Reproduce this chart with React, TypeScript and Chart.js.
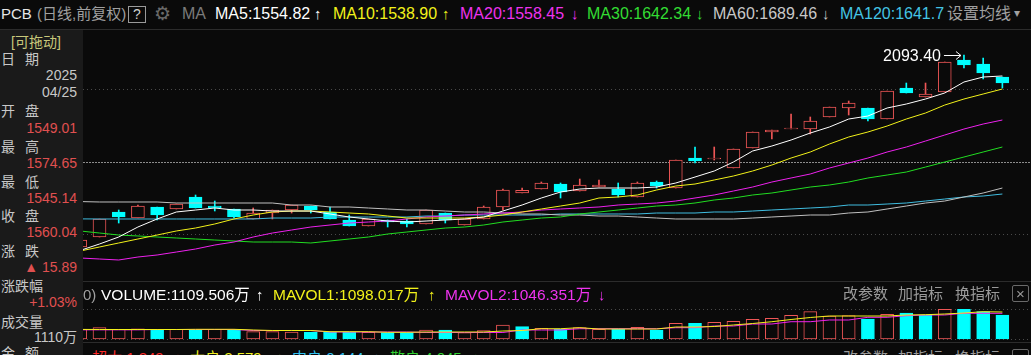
import React, { useEffect, useRef } from "react";
import { Chart, registerables } from "chart.js";

Chart.register(...registerables);

// ---------------- data ----------------
const openPrices = [
  1564.1, 1591.7, 1660.7, 1644.1, 1674.5, 1669.0, 1702.1, 1677.3, 1669.0, 1641.4,
  1657.9, 1666.2, 1677.3, 1660.7, 1638.6, 1622.1, 1638.6, 1635.9, 1627.6, 1657.9,
  1624.8, 1641.4, 1674.5, 1713.1, 1724.2, 1737.9, 1718.6, 1729.7, 1724.2, 1702.1,
  1743.5, 1726.9, 1809.7, 1806.9, 1782.1, 1837.3, 1881.4, 1889.6, 1889.6, 1922.8,
  1947.6, 1947.6, 1917.3, 2002.8, 1977.9, 1991.7, 2080.0, 2069.0, 2033.1,
];
const highPrices = [
  1586.0, 1641.4, 1666.2, 1680.0, 1674.5, 1682.8, 1707.6, 1691.0, 1669.0, 1671.8,
  1666.2, 1680.0, 1677.3, 1674.5, 1652.4, 1641.4, 1638.6, 1641.4, 1666.2, 1657.9,
  1641.4, 1677.3, 1724.2, 1726.9, 1743.5, 1740.7, 1751.7, 1749.0, 1740.7, 1743.5,
  1746.2, 1804.1, 1840.0, 1840.0, 1834.5, 1881.4, 1886.9, 1931.0, 1922.8, 1950.3,
  1966.9, 1947.6, 1994.5, 2016.5, 2016.5, 2074.5, 2093.4, 2085.5, 2033.1,
];
const lowPrices = [
  1561.0, 1591.7, 1630.3, 1644.1, 1638.6, 1669.0, 1671.8, 1663.5, 1644.1, 1641.4,
  1641.4, 1657.9, 1657.9, 1641.4, 1622.1, 1622.1, 1619.3, 1619.3, 1627.6, 1630.3,
  1624.8, 1641.4, 1666.2, 1713.1, 1724.2, 1699.3, 1718.6, 1729.7, 1702.1, 1702.1,
  1726.9, 1726.9, 1795.9, 1804.1, 1782.1, 1837.3, 1862.0, 1889.6, 1875.9, 1922.8,
  1928.3, 1911.8, 1917.3, 1989.0, 1977.9, 1991.7, 2057.9, 2027.6, 2002.8,
];
const closePrices = [
  1583.5, 1641.4, 1646.9, 1677.3, 1652.4, 1682.8, 1671.8, 1672.5, 1646.9, 1657.9,
  1666.2, 1680.0, 1666.2, 1641.4, 1622.1, 1641.4, 1633.1, 1627.6, 1666.2, 1638.6,
  1641.4, 1674.5, 1721.4, 1720.5, 1740.7, 1715.9, 1735.2, 1735.2, 1707.6, 1740.7,
  1732.4, 1804.1, 1801.4, 1807.5, 1834.5, 1881.4, 1886.9, 1890.2, 1911.8, 1950.3,
  1961.4, 1917.3, 1994.5, 1989.0, 1986.2, 2074.5, 2066.2, 2044.1, 2016.5,
];
const ma5 = [
  1554.8, 1572.4, 1591.7, 1619.3, 1641.4, 1660.7, 1666.2, 1671.7, 1666.2, 1666.2,
  1663.4, 1663.4, 1663.4, 1655.2, 1646.9, 1641.4, 1635.8, 1633.1, 1635.8, 1638.6,
  1641.4, 1646.9, 1663.4, 1680.0, 1699.3, 1715.8, 1724.1, 1726.9, 1726.9, 1726.9,
  1729.6, 1740.7, 1757.2, 1773.8, 1798.6, 1829.0, 1842.7, 1859.3, 1878.6, 1895.2,
  1917.2, 1925.5, 1947.6, 1958.6, 1972.4, 1989.0, 2019.3, 2033.1, 2035.9,
];
const ma10 = [
  1553.1, 1564.1, 1575.2, 1586.2, 1597.2, 1608.3, 1616.5, 1627.6, 1641.4, 1652.4,
  1660.7, 1663.4, 1663.4, 1660.7, 1657.9, 1655.2, 1649.6, 1644.1, 1644.1, 1644.1,
  1644.1, 1646.9, 1652.4, 1660.7, 1669.0, 1677.2, 1685.5, 1699.3, 1702.1, 1707.6,
  1721.4, 1732.4, 1737.9, 1749.0, 1760.0, 1773.8, 1790.3, 1809.6, 1826.2, 1848.3,
  1867.6, 1881.4, 1897.9, 1917.2, 1933.8, 1955.8, 1972.4, 1986.2, 2000.0,
];
const ma20 = [
  1533.8, 1531.0, 1528.3, 1536.5, 1542.1, 1550.3, 1558.6, 1569.6, 1577.9, 1591.7,
  1602.7, 1611.0, 1619.3, 1624.8, 1630.3, 1633.1, 1635.8, 1641.4, 1646.9, 1649.6,
  1652.4, 1655.2, 1657.9, 1660.7, 1666.2, 1669.0, 1671.7, 1674.5, 1680.0, 1682.7,
  1685.5, 1691.0, 1699.3, 1707.6, 1718.6, 1729.6, 1743.4, 1754.5, 1765.5, 1782.1,
  1795.8, 1809.6, 1826.2, 1840.0, 1856.5, 1873.1, 1889.6, 1903.4, 1914.5,
];
const ma30 = [
  1608.3, 1602.7, 1597.2, 1594.5, 1591.7, 1589.0, 1586.2, 1583.4, 1580.7, 1577.9,
  1577.9, 1577.9, 1575.2, 1580.7, 1586.2, 1591.7, 1600.0, 1605.5, 1611.0, 1616.5,
  1619.3, 1624.8, 1633.1, 1638.6, 1644.1, 1646.9, 1655.2, 1660.7, 1666.2, 1671.7,
  1677.2, 1680.0, 1685.5, 1693.8, 1699.3, 1707.6, 1713.1, 1721.4, 1729.6, 1735.2,
  1743.4, 1754.5, 1762.7, 1771.0, 1784.8, 1798.6, 1812.4, 1826.2, 1840.0,
];
const ma60 = [
  1689.5, 1688.3, 1688.3, 1688.3, 1688.3, 1685.5, 1685.5, 1685.5, 1685.5, 1685.5,
  1685.5, 1680.0, 1680.0, 1674.5, 1674.5, 1671.7, 1669.0, 1666.2, 1666.2, 1663.4,
  1660.7, 1660.7, 1657.9, 1655.2, 1655.2, 1652.4, 1652.4, 1649.6, 1649.6, 1646.9,
  1644.1, 1641.4, 1641.4, 1641.4, 1641.4, 1644.1, 1646.9, 1649.6, 1652.4, 1652.4,
  1657.9, 1660.7, 1669.0, 1677.2, 1685.5, 1691.0, 1702.1, 1713.1, 1726.9,
];
const ma120 = [
  1641.7, 1641.4, 1641.4, 1641.4, 1641.4, 1641.4, 1641.4, 1641.4, 1641.4, 1641.4,
  1644.1, 1644.1, 1644.1, 1646.9, 1646.9, 1646.9, 1646.9, 1646.9, 1649.6, 1649.6,
  1652.4, 1652.4, 1652.4, 1652.4, 1652.4, 1655.2, 1655.2, 1655.2, 1655.2, 1655.2,
  1657.9, 1657.9, 1657.9, 1660.7, 1660.7, 1663.4, 1666.2, 1669.0, 1671.7, 1674.5,
  1680.0, 1680.0, 1682.7, 1685.5, 1691.0, 1696.5, 1702.1, 1704.8, 1710.3,
];
// volume in 万 shares
const volumes = [
  1110, 1293, 1110, 1178, 1030, 1110, 1030, 1110, 1030, 835,
  835, 800, 766, 766, 766, 766, 721, 721, 1030, 1030,
  721, 950, 1602, 1407, 1224, 1144, 1293, 1110, 1144, 1338,
  1030, 1796, 1796, 1910, 2025, 2254, 2368, 2711, 3123, 2631,
  2666, 2288, 2826, 2974, 2746, 3398, 3398, 3123, 2746,
];
const mavol1 = [
  1098, 1087, 1087, 1087, 1087, 1087, 1110, 1110, 1110, 1030,
  972, 972, 972, 835, 835, 835, 766, 766, 800, 800,
  800, 800, 915, 972, 1178, 1178, 1293, 1144, 1144, 1144,
  1144, 1373, 1373, 1430, 1602, 1773, 1979, 2231, 2460, 2631,
  2631, 2631, 2631, 2746, 2780, 2860, 2974, 3123, 3089,
];
const mavol2 = [
  1046, 1046, 1046, 1046, 1087, 1087, 1087, 1087, 1087, 972,
  972, 972, 972, 800, 800, 800, 800, 800, 744, 744,
  744, 744, 744, 1030, 1030, 1030, 1178, 1178, 1178, 1178,
  1178, 1293, 1293, 1487, 1487, 1716, 1716, 1979, 1979, 2174,
  2174, 2482, 2482, 2666, 2746, 2746, 2940, 2940, 2940,
];
const priceGridLines = [1600, 1800, 2000];
const volumeGridLines = [0, 3432];

// ---------------- styles / layout ----------------
const BG = "#0a0a0a";
const RED = "#ee5656";
const CYAN = "#00ffff";
const FONT = "'Liberation Sans', 'Noto Sans CJK SC', sans-serif";
const X_MIN = 0.141;
const X_MAX = 49.49;
const P_MIN = 1473.1;
const P_MAX = 2162.8;
const V_MIN = -343;
const V_MAX = 4462;

const idx = closePrices.map((_, i) => i);
const isUp = (i: number) => closePrices[i] >= openPrices[i];
const volUp = (i: number) => i === 0 || closePrices[i] >= closePrices[i - 1];

function lineDs(label: string, values: number[], color: string) {
  return {
    type: "line" as const,
    label,
    data: idx.map((i) => ({ x: i, y: values[i] })),
    borderColor: color,
    borderWidth: 1,
    pointRadius: 0,
    tension: 0,
    fill: false,
    order: 0,
  };
}

function gridPlugin(id: string, values: number[], styleFor: (v: number) => { color: string; dash: number[] }) {
  return {
    id,
    beforeDatasetsDraw(chart: any) {
      const { ctx, chartArea, scales } = chart;
      ctx.save();
      values.forEach((v) => {
        const y = Math.round(scales.y.getPixelForValue(v)) + 0.5;
        const st = styleFor(v);
        ctx.strokeStyle = st.color;
        ctx.setLineDash(st.dash);
        ctx.lineWidth = 1;
        ctx.beginPath();
        ctx.moveTo(chartArea.left, y);
        ctx.lineTo(chartArea.right, y);
        ctx.stroke();
      });
      ctx.restore();
    },
  };
}

const maxLabelPlugin = {
  id: "maxLabel",
  afterDatasetsDraw(chart: any) {
    const { ctx, scales } = chart;
    let m = 0;
    highPrices.forEach((h, i) => {
      if (h > highPrices[m]) m = i;
    });
    const px = scales.x.getPixelForValue(m);
    const py = Math.round(scales.y.getPixelForValue(highPrices[m])) + 0.5;
    ctx.save();
    ctx.font = `16px ${FONT}`;
    ctx.fillStyle = "#ffffff";
    ctx.textAlign = "right";
    ctx.textBaseline = "middle";
    ctx.fillText(highPrices[m].toFixed(2), px - 23, py + 1);
    ctx.strokeStyle = "#ffffff";
    ctx.lineWidth = 1;
    ctx.beginPath();
    ctx.moveTo(px - 20, py);
    ctx.lineTo(px - 3, py);
    ctx.moveTo(px - 8, py - 4);
    ctx.lineTo(px - 3, py);
    ctx.lineTo(px - 8, py + 4);
    ctx.stroke();
    ctx.restore();
  },
};

function mainConfig(): any {
  return {
    type: "bar",
    data: {
      datasets: [
        lineDs("MA5", ma5, "#ffffff"),
        lineDs("MA10", ma10, "#f2f21a"),
        lineDs("MA20", ma20, "#ee22ee"),
        lineDs("MA30", ma30, "#22dd22"),
        lineDs("MA60", ma60, "#c0c0c0"),
        lineDs("MA120", ma120, "#40bde0"),
        {
          type: "bar",
          label: "body",
          data: idx.map((i) => ({
            x: i,
            y: [Math.min(openPrices[i], closePrices[i]), Math.max(openPrices[i], closePrices[i])],
          })),
          backgroundColor: idx.map((i) => (isUp(i) ? BG : CYAN)),
          borderColor: idx.map((i) => (isUp(i) ? RED : CYAN)),
          borderWidth: 1,
          borderSkipped: false,
          barThickness: 13,
          minBarLength: 1,
          grouped: false,
          order: 1,
        },
        {
          type: "bar",
          label: "wick",
          data: idx.map((i) => ({ x: i, y: [lowPrices[i], highPrices[i]] })),
          backgroundColor: idx.map((i) => (isUp(i) ? RED : CYAN)),
          borderWidth: 0,
          barThickness: 1,
          grouped: false,
          order: 2,
        },
      ],
    },
    options: {
      animation: false,
      responsive: false,
      maintainAspectRatio: false,
      events: [],
      layout: { padding: 0 },
      plugins: { legend: { display: false }, tooltip: { enabled: false } },
      scales: {
        x: { type: "linear", min: X_MIN, max: X_MAX, display: false, offset: false },
        y: { type: "linear", min: P_MIN, max: P_MAX, display: false },
      },
    },
    plugins: [
      gridPlugin("priceGrid", priceGridLines, (v) =>
        v === 1800 ? { color: "#8c8c8c", dash: [2, 1] } : { color: "#4a4a4a", dash: [1, 3] }
      ),
      maxLabelPlugin,
    ],
  };
}

function volConfig(): any {
  return {
    type: "bar",
    data: {
      datasets: [
        lineDs("MAVOL1", mavol1, "#f2f21a"),
        lineDs("MAVOL2", mavol2, "#ee22ee"),
        {
          type: "bar",
          label: "VOLUME",
          data: idx.map((i) => ({ x: i, y: volumes[i] })),
          backgroundColor: idx.map((i) => (volUp(i) ? BG : CYAN)),
          borderColor: idx.map((i) => (volUp(i) ? RED : CYAN)),
          borderWidth: 1,
          borderSkipped: false,
          barThickness: 13,
          grouped: false,
          order: 1,
        },
      ],
    },
    options: {
      animation: false,
      responsive: false,
      maintainAspectRatio: false,
      events: [],
      layout: { padding: 0 },
      plugins: { legend: { display: false }, tooltip: { enabled: false } },
      scales: {
        x: { type: "linear", min: X_MIN, max: X_MAX, display: false, offset: false },
        y: { type: "linear", min: V_MIN, max: V_MAX, display: false },
      },
    },
    plugins: [gridPlugin("volGrid", volumeGridLines, () => ({ color: "#4a4a4a", dash: [1, 3] }))],
  };
}

// ---------------- text helpers ----------------
function T(props: {
  x?: number;
  right?: number;
  cy: number;
  color: string;
  size?: number;
  ls?: number;
  children: React.ReactNode;
}) {
  const { x, right, cy, color, size = 16, ls, children } = props;
  return (
    <div
      style={{
        position: "absolute",
        left: x,
        right,
        top: cy - 10,
        height: 20,
        lineHeight: "20px",
        fontSize: size,
        color,
        whiteSpace: "nowrap",
        letterSpacing: ls,
      }}
    >
      {children}
    </div>
  );
}

const maHeader = [
  { text: "MA5:1554.82", x: 215, arrow: "↑", ax: 314, color: "#ffffff" },
  { text: "MA10:1538.90", x: 333, arrow: "↑", ax: 442, color: "#f2f21a" },
  { text: "MA20:1558.45", x: 460, arrow: "↓", ax: 571, color: "#ee33ee" },
  { text: "MA30:1642.34", x: 587, arrow: "↓", ax: 696, color: "#33dd33" },
  { text: "MA60:1689.46", x: 713, arrow: "↓", ax: 822, color: "#c8c8c8" },
  { text: "MA120:1641.7", x: 840, arrow: "", ax: 0, color: "#44c4e4" },
];

const panelRows: { t: string; cy: number; color: string; right?: boolean; ls?: number }[] = [
  { t: "日 期", cy: 29, color: "#c8c8c8", ls: 3 },
  { t: "2025", cy: 45, color: "#c8c8c8", right: true },
  { t: "04/25", cy: 62, color: "#c8c8c8", right: true },
  { t: "开 盘", cy: 81, color: "#c8c8c8", ls: 3 },
  { t: "1549.01", cy: 98, color: "#e05050", right: true },
  { t: "最 高", cy: 117, color: "#c8c8c8", ls: 3 },
  { t: "1574.65", cy: 133, color: "#e05050", right: true },
  { t: "最 低", cy: 152, color: "#c8c8c8", ls: 3 },
  { t: "1545.14", cy: 168, color: "#e05050", right: true },
  { t: "收 盘", cy: 186, color: "#c8c8c8", ls: 3 },
  { t: "1560.04", cy: 202, color: "#e05050", right: true },
  { t: "涨 跌", cy: 221, color: "#c8c8c8", ls: 3 },
  { t: "▲ 15.89", cy: 237, color: "#e05050", right: true },
  { t: "涨跌幅", cy: 256, color: "#c8c8c8" },
  { t: "+1.03%", cy: 272, color: "#e05050", right: true },
  { t: "成交量", cy: 292, color: "#c8c8c8" },
  { t: "1110万", cy: 307, color: "#c8c8c8", right: true },
  { t: "金 额", cy: 323, color: "#c8c8c8", ls: 3 },
];

const flowRow = [
  { text: "超大:1.349", x: 92, arrow: "↑", ax: 174, color: "#ff2a2a" },
  { text: "大户:2.579", x: 190, arrow: "↑", ax: 276, color: "#f0f020" },
  { text: "中户:0.144", x: 292, arrow: "↓", ax: 373, color: "#30c0f0" },
  { text: "散户:4.045", x: 390, arrow: "↓", ax: 472, color: "#30d030" },
];

function Buttons({ cy }: { cy: number }) {
  return (
    <>
      <T x={843} cy={cy} color="#9a9a9a" size={15}>改参数</T>
      <T x={898} cy={cy} color="#9a9a9a" size={15}>加指标</T>
      <T x={955} cy={cy} color="#9a9a9a" size={15}>换指标</T>
      <div
        style={{
          position: "absolute",
          left: 1012,
          top: cy - 9,
          width: 17,
          height: 17,
          border: "1px solid #6a6a6a",
          borderRadius: 2,
          boxSizing: "border-box",
          color: "#9a9a9a",
          fontSize: 15,
          lineHeight: "15px",
          textAlign: "center",
        }}
      >
        ×
      </div>
    </>
  );
}

export default function App() {
  const mainRef = useRef<HTMLCanvasElement>(null);
  const volRef = useRef<HTMLCanvasElement>(null);

  useEffect(() => {
    const main = new Chart(mainRef.current as HTMLCanvasElement, mainConfig());
    const vol = new Chart(volRef.current as HTMLCanvasElement, volConfig());
    return () => {
      main.destroy();
      vol.destroy();
    };
  }, []);

  return (
    <div
      style={{
        position: "fixed",
        left: 0,
        top: 0,
        width: 1031,
        height: 355,
        background: BG,
        overflow: "hidden",
        fontFamily: FONT,
      }}
    >
      {/* charts */}
      <div style={{ position: "absolute", left: 83, top: 30, width: 948, height: 250 }}>
        <canvas ref={mainRef} width={948} height={250} style={{ display: "block", width: 948, height: 250 }} />
      </div>
      <div style={{ position: "absolute", left: 83, top: 300, width: 948, height: 42 }}>
        <canvas ref={volRef} width={948} height={42} style={{ display: "block", width: 948, height: 42 }} />
      </div>

      {/* separators */}
      <div style={{ position: "absolute", left: 0, top: 29, width: 1031, height: 1, background: "#2c2c2c" }} />
      <div style={{ position: "absolute", left: 83, top: 281, width: 948, height: 1, background: "#2c2c2c" }} />
      <div style={{ position: "absolute", left: 83, top: 342, width: 948, height: 1, background: "#2c2c2c" }} />

      {/* header */}
      <T x={1} cy={14} color="#e6e6e6" size={15}>PCB</T>
      <T x={37} cy={14} color="#a0a0a0" size={15}>(日线,前复权)</T>
      <div
        style={{
          position: "absolute",
          left: 128,
          top: 6,
          width: 18,
          height: 17,
          border: "1px solid #9a9a9a",
          boxSizing: "border-box",
          color: "#d0d0d0",
          fontSize: 14,
          lineHeight: "15px",
          textAlign: "center",
        }}
      >
        ?
      </div>
      <T x={154} cy={14} color="#6a6a6a" size={19}>⚙</T>
      <T x={182} cy={14} color="#7a7a7a">MA</T>
      {maHeader.map((m) => (
        <React.Fragment key={m.text}>
          <T x={m.x} cy={14} color={m.color}>{m.text}</T>
          {m.arrow ? <T x={m.ax} cy={14} color={m.color} size={15}>{m.arrow}</T> : null}
        </React.Fragment>
      ))}
      <T x={947} cy={14} color="#a0a0a0">设置均线</T>
      <T x={1014} cy={13} color="#a0a0a0" size={12}>▾</T>

      {/* volume header */}
      <T x={83} cy={295} color="#a0a0a0" size={15}>0)</T>
      <T x={101} cy={295} color="#ffffff" size={15.5}>VOLUME:1109.506万</T>
      <T x={256} cy={295} color="#ffffff" size={15}>↑</T>
      <T x={273} cy={295} color="#f2f21a" size={15.5}>MAVOL1:1098.017万</T>
      <T x={428} cy={295} color="#f2f21a" size={15}>↑</T>
      <T x={445} cy={295} color="#ee33ee" size={15.5}>MAVOL2:1046.351万</T>
      <T x={598} cy={295} color="#ee33ee" size={15}>↓</T>
      <Buttons cy={294} />

      {/* bottom (cut) indicator row */}
      {flowRow.map((f) => (
        <React.Fragment key={f.text}>
          <T x={f.x} cy={358} color={f.color} size={15}>{f.text}</T>
          <T x={f.ax} cy={358} color={f.color} size={15}>{f.arrow}</T>
        </React.Fragment>
      ))}
      <Buttons cy={358} />

      {/* left info panel */}
      <div style={{ position: "absolute", left: 0, top: 30, width: 83, height: 325, background: "#1a1a1a" }}>
        <T x={11} cy={12} color="#c8c87a" size={14}>[可拖动]</T>
        {panelRows.map((r) =>
          r.right ? (
            <T key={r.t} right={6} cy={r.cy} color={r.color} size={14}>{r.t}</T>
          ) : (
            <T key={r.t} x={1} cy={r.cy} color={r.color} size={14} ls={r.ls}>{r.t}</T>
          )
        )}
      </div>
    </div>
  );
}
